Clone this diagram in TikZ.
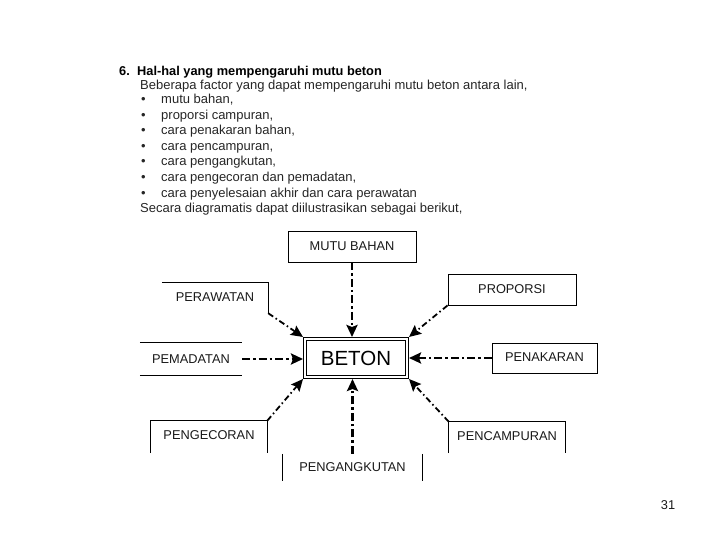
\documentclass[tikz,border=0pt]{standalone}
\usepackage{fontspec}
\setmainfont{Liberation Sans}
\usetikzlibrary{arrows.meta}
\begin{document}
\begin{tikzpicture}[x=1pt,y=-1pt,
  txt/.style={anchor=base west, inner sep=0pt, font=\fontsize{13}{15}\selectfont, text=black!85},
  btxt/.style={anchor=base west, inner sep=0pt, font=\bfseries\fontsize{12.8}{15}\selectfont},
  lbl/.style={inner sep=0pt, font=\fontsize{12.8}{15}\selectfont, text=black!90},
  frame/.style={line width=0.8pt},
  flow/.style={line width=2.8pt, dash pattern=on 8pt off 3pt on 2.5pt off 3pt,
    -{Stealth[length=12pt,width=11pt,inset=2pt]}},
  dflow/.style={line width=1.8pt, dash pattern=on 6pt off 3pt on 1.5pt off 3pt,
    -{Stealth[length=12pt,width=11pt,inset=2pt]}},
]
\useasboundingbox (0,0) rectangle (720,540);

% heading text
\node[btxt] (num) at (119,75.5) {6.};
\node[btxt] (title) at (137,75.5) {Hal-hal yang mempengaruhi mutu beton};
\node[txt] (intro) at (140,89.5) {Beberapa factor yang dapat mempengaruhi mutu beton antara lain,};
\foreach \y/\t [count=\i] in {104/{mutu bahan,},119.5/{proporsi campuran,},135/{cara penakaran bahan,},
  150.5/{cara pencampuran,},166/{cara pengangkutan,},181.5/{cara pengecoran dan pemadatan,},
  197/{cara penyelesaian akhir dan cara perawatan}}{
  \node[txt] (b\i) at (141,\y) {\textbullet};
  \node[txt] (it\i) at (161,\y) {\t};
}
\node[txt] (outro) at (140,212.5) {Secara diagramatis dapat diilustrasikan sebagai berikut,};

% centre
\node[draw, line width=0.9pt, double, double distance=1.8pt, outer sep=1.8pt,
  minimum width=102.4pt, minimum height=38.4pt, inner sep=0pt,
  font=\fontsize{20.5}{22}\selectfont] (beton) at (356,358) {BETON\hspace{14pt}};

% surrounding boxes
\node[lbl, draw, frame, minimum width=128pt, minimum height=31pt] (mutu) at (352,246.5) {MUTU BAHAN};
\node[lbl, draw, frame, minimum width=128pt, minimum height=31pt] (prop) at (512,289.5) {\raisebox{1.5pt}{PROPORSI}};
\node[lbl, draw, frame, minimum width=105pt, minimum height=30pt] (takar) at (544.5,358) {\raisebox{1.5pt}{PENAKARAN}};

\node[lbl, minimum width=106pt, minimum height=30pt] (rawat) at (215,298) {\raisebox{1pt}{PERAWATAN}};
\draw[frame] (rawat.north west) -- (rawat.north east) -- (rawat.south east);

\node[lbl, minimum width=102pt, minimum height=32pt] (padat) at (191,359) {PEMADATAN};
\draw[frame] (padat.north west) -- (padat.north east);
\draw[frame] (padat.south west) -- (padat.south east);

\node[lbl, minimum width=116pt, minimum height=32pt] (cor) at (209,437) {\raisebox{3pt}{PENGECORAN}};
\draw[frame] (cor.south west) -- (cor.north west) -- (cor.north east) -- (cor.south east);

\node[lbl, minimum width=116pt, minimum height=31pt] (campur) at (507,437.5) {\raisebox{3pt}{PENCAMPURAN}};
\draw[frame] (campur.south west) -- (campur.north west) -- (campur.north east) -- (campur.south east);

\node[lbl, minimum width=139pt, minimum height=27pt] (angkut) at (352.5,467.5) {PENGANGKUTAN};
\draw[frame] (angkut.north west) -- (angkut.south west);
\draw[frame] (angkut.north east) -- (angkut.south east);

% connectors
\draw[flow] (mutu.south) -- (mutu.south |- beton.north);
\draw[flow] (takar.west) -- (takar.west -| beton.east);
\draw[flow] (padat.east) -- (padat.east -| beton.west);
\draw[flow] (angkut.north) -- (angkut.north |- beton.south);
\draw[dflow] (prop.south west) -- (beton.north east);
\draw[dflow] (rawat.south east) -- (beton.north west);
\draw[dflow] (cor.north east) -- (beton.south west);
\draw[dflow] (campur.north west) -- (beton.south east);

% page number
\node[lbl] (page) at (668,505) {31};
\end{tikzpicture}
\end{document}
